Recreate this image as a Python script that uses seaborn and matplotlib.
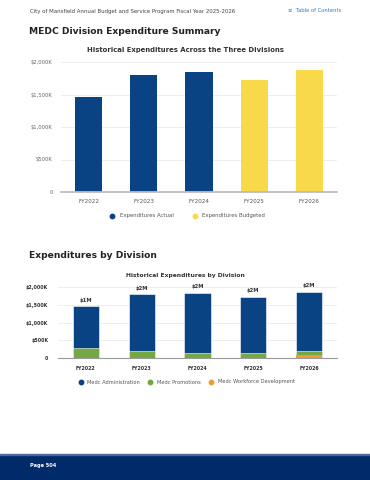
import matplotlib
matplotlib.use("Agg")
import matplotlib.pyplot as plt
import seaborn as sns
import pandas as pd
from matplotlib.lines import Line2D
from matplotlib.patches import Rectangle

# data
years = ["FY2022", "FY2023", "FY2024", "FY2025", "FY2026"]
total_exp = [1457, 1800, 1842, 1728, 1872]  # $K
exp_kind = ["Expenditures Actual", "Expenditures Actual", "Expenditures Actual",
            "Expenditures Budgeted", "Expenditures Budgeted"]

admin = [1187, 1595, 1702, 1588, 1687]
promotions = [270, 205, 140, 135, 105]
workforce = [0, 0, 0, 5, 80]
bar_labels = ["$1M", "$2M", "$2M", "$2M", "$2M"]

yticks = [0, 500, 1000, 1500, 2000]
ytick_labels = ["0", "$500K", "$1,000K", "$1,500K", "$2,000K"]

NAVY = "#0a4383"
YELLOW = "#f7d94a"
GREEN = "#74a843"
ORANGE = "#f09a3a"
FOOT = "#012a6b"

sns.set_theme(style="white")
plt.rcParams["font.family"] = ["DejaVu Sans"]

W, H = 370, 480
fig = plt.figure(figsize=(W / 100, H / 100), dpi=100)


def px_axes(x0, y0, x1, y1):
    return fig.add_axes([x0 / W, 1 - y1 / H, (x1 - x0) / W, (y1 - y0) / H])


def ftext(x, y, s, **kw):
    fig.text(x / W, 1 - y / H, s, **kw)


# header
ftext(30, 11, "City of Mansfield Annual Budget and Service Program Fiscal Year 2025-2026",
      fontsize=3.9, color="#444444", va="center")
ftext(288, 11, "\u2261  Table of Contents", fontsize=3.8, color="#3b78c9", va="center")
ftext(29, 32, "MEDC Division Expenditure Summary", fontsize=6.6, fontweight="bold",
      color="#222222", va="center")
ftext(185, 50, "Historical Expenditures Across the Three Divisions", fontsize=4.95,
      fontweight="semibold", color="#333333", ha="center", va="center")

# chart 1
ax1 = px_axes(61, 62, 337, 192)
df1 = pd.DataFrame({"year": years, "value": total_exp, "kind": exp_kind})
sns.barplot(data=df1, x="year", y="value", hue="kind", dodge=False,
            palette={"Expenditures Actual": NAVY, "Expenditures Budgeted": YELLOW},
            width=0.49, ax=ax1, legend=False, edgecolor="none", saturation=1)
ax1.set_xlim(-0.5, 4.5)
ax1.set_ylim(0, 2000)
ax1.set_yticks(yticks)
ax1.set_yticklabels(ytick_labels)
ax1.grid(axis="y", color="#ebebeb", linewidth=0.6)
ax1.set_axisbelow(True)
for s in ["top", "right", "left"]:
    ax1.spines[s].set_visible(False)
ax1.spines["bottom"].set_color("#bdbdbd")
ax1.spines["bottom"].set_linewidth(1.3)
ax1.tick_params(axis="y", labelsize=3.8, labelcolor="#666666", length=0, pad=6)
ax1.tick_params(axis="x", labelsize=4.1, labelcolor="#555555", length=0, pad=5)
ax1.set_xlabel("")
ax1.set_ylabel("")

h1 = [Line2D([], [], marker="o", ls="", color=NAVY, markersize=3.2),
      Line2D([], [], marker="o", ls="", color=YELLOW, markersize=3.2)]
fig.legend(h1, ["Expenditures Actual", "Expenditures Budgeted"], loc="center",
           bbox_to_anchor=(186 / W, 1 - 216 / H), ncol=2, frameon=False,
           fontsize=3.9, handletextpad=0.3, columnspacing=3.0, labelcolor="#555555")

# second section
ftext(29, 256, "Expenditures by Division", fontsize=6.6, fontweight="bold",
      color="#222222", va="center")
ftext(185, 275, "Historical Expenditures by Division", fontsize=4.3,
      fontweight="semibold", color="#333333", ha="center", va="center")

ax2 = px_axes(58, 287, 337, 358)
df2 = pd.DataFrame({"year": years, "admin": admin, "promo": promotions, "work": workforce})
df2["top"] = df2["admin"] + df2["promo"] + df2["work"]
df2["mid"] = df2["promo"] + df2["work"]
sns.barplot(data=df2, x="year", y="top", color=NAVY, width=0.47, ax=ax2,
            edgecolor="white", linewidth=0.4, saturation=1)
sns.barplot(data=df2, x="year", y="mid", color=GREEN, width=0.47, ax=ax2,
            edgecolor="white", linewidth=0.4, saturation=1)
sns.barplot(data=df2, x="year", y="work", color=ORANGE, width=0.47, ax=ax2,
            edgecolor="none", linewidth=0, saturation=1)
for i, lab in enumerate(bar_labels):
    ax2.text(i, df2["top"][i] + 90, lab, ha="center", va="bottom", fontsize=3.8,
             color="#333333", fontweight="semibold")
ax2.set_xlim(-0.5, 4.5)
ax2.set_ylim(0, 2000)
ax2.set_yticks(yticks)
ax2.set_yticklabels(ytick_labels)
ax2.grid(axis="y", color="#ebebeb", linewidth=0.6)
ax2.set_axisbelow(True)
for s in ["top", "right", "left"]:
    ax2.spines[s].set_visible(False)
ax2.spines["bottom"].set_color("#9a9a9a")
ax2.spines["bottom"].set_linewidth(0.8)
ax2.tick_params(axis="y", labelsize=3.4, labelcolor="#333333", length=0, pad=7)
ax2.tick_params(axis="x", labelsize=3.4, labelcolor="#333333", length=0, pad=6)
for t in ax2.get_xticklabels() + ax2.get_yticklabels():
    t.set_fontweight("bold")
ax2.set_xlabel("")
ax2.set_ylabel("")

h2 = [Line2D([], [], marker="o", ls="", color=c, markersize=3.2) for c in (NAVY, GREEN, ORANGE)]
fig.legend(h2, ["Medc Administration", "Medc Promotions", "Medc Workforce Development"],
           loc="center", bbox_to_anchor=(185 / W, 1 - 382 / H), ncol=3, frameon=False,
           fontsize=3.7, handletextpad=0.3, columnspacing=1.0, labelcolor="#555555")

# footer
fig.patches.append(Rectangle((0, 0), 1, 25 / H, transform=fig.transFigure,
                             color=FOOT, zorder=0))
fig.patches.append(Rectangle((0, 25 / H), 1, 0.8 / H, transform=fig.transFigure,
                             color="#4a6a9a", zorder=0))
ftext(30, 466, "Page 504", fontsize=3.6, color="white", fontweight="bold", va="center")

fig.savefig("out.png", dpi=100)
